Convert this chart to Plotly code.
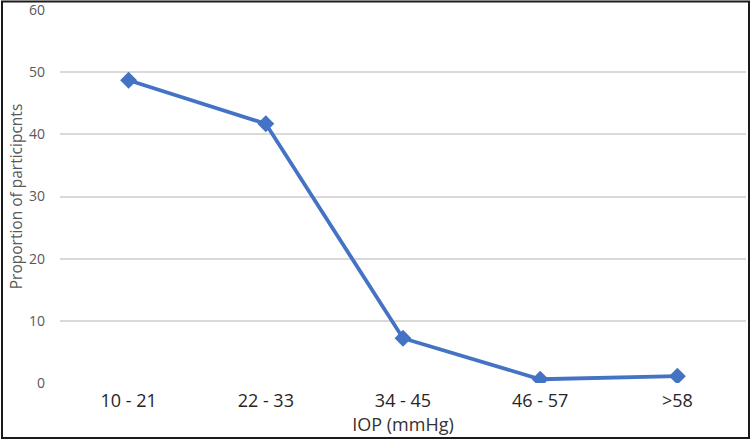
import plotly.graph_objects as go

categories = ["10 - 21", "22 - 33", "34 - 45", "46 - 57", ">58"]
proportion = [48.7, 41.7, 7.2, 0.6, 1.1]
y_ticks = [0, 10, 20, 30, 40, 50, 60]

L, R, T, B = 60, 6, 10, 58
W, H = 752, 441
pw, ph = W - L - R, H - T - B

def px_x(p):
    return (p - L) / pw

def px_y(p):
    return (T + ph - p) / ph

fig = go.Figure()
fig.add_trace(go.Scatter(
    x=categories, y=proportion, mode="lines+markers",
    line=dict(color="#4472C4", width=3.8),
    marker=dict(symbol="diamond", size=13, color="#4472C4"),
    showlegend=False,
))

fig.update_layout(
    width=W, height=H,
    margin=dict(l=L, r=R, t=T, b=B, autoexpand=False),
    paper_bgcolor="white", plot_bgcolor="white",
    font=dict(family="Open Sans, Liberation Sans, sans-serif"),
    xaxis=dict(
        type="category", range=[-0.5, len(categories) - 0.5],
        showgrid=False, zeroline=False, showline=False, automargin=False,
        tickfont=dict(size=18, color="#262626"),
        ticklabelstandoff=5,
        title=dict(text="IOP (mmHg)", font=dict(size=18, color="#333333"), standoff=4),
    ),
    yaxis=dict(
        range=[0, 60], tickvals=y_ticks, showgrid=True, gridcolor="#D9D9D9",
        gridwidth=1.5, zeroline=False, showline=False, automargin=False,
        tickfont=dict(size=14, color="#595959"),
        ticklabelstandoff=14, ticklabeloverflow="allow",
        title=dict(text="Proportion of participcnts", font=dict(size=15.5, color="#595959"), standoff=2),
    ),
    shapes=[dict(
        type="rect", xref="paper", yref="paper",
        x0=px_x(2), x1=px_x(749), y0=px_y(438), y1=px_y(1.5),
        line=dict(color="#1a1a1a", width=2), fillcolor="rgba(0,0,0,0)", layer="below",
    )],
)

fig.write_html("out.html", config={"displayModeBar": False},
               post_script="document.body.style.margin='0';")
